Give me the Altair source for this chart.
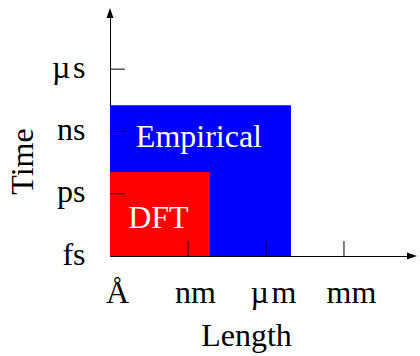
import altair as alt
import pandas as pd

# Data
x_labels = ["Å", "nm", "µ\u200am", "mm"]
y_labels = ["fs", "ps", "ns", "µ\u200as"]
tick_vals = [0, 1, 2, 3]

region_names = ["Empirical", "DFT"]
region_x2 = [2.32, 1.28]
region_y2 = [2.42, 1.35]
region_colors = ["#0000FF", "#FF0000"]
region_text_x = [1.14, 0.62]
region_text_y = [1.75, 0.45]

x_max = 3.885
y_max = 3.95

FONT = "Liberation Serif"
FS = 32

regions = pd.DataFrame({
    "name": region_names, "x": [0, 0], "x2": region_x2,
    "y": [0, 0], "y2": region_y2, "color": region_colors,
    "tx": region_text_x, "ty": region_text_y,
})

xs = alt.Scale(domain=[0, x_max], nice=False, zero=False)
ys = alt.Scale(domain=[0, y_max], nice=False, zero=False)

x_expr = "[" + ",".join('"%s"' % s for s in x_labels) + "][datum.value]"
y_expr = "[" + ",".join('"%s"' % s for s in y_labels) + "][datum.value]"

base = alt.Chart(regions)

rects = base.mark_rect().encode(
    x=alt.X("x:Q", scale=xs, axis=alt.Axis(
        values=tick_vals, labelExpr=x_expr, ticks=False, tickSize=0, grid=False,
        labelFont=FONT, labelFontSize=FS, labelColor="black",
        labelBaseline="alphabetic", labelPadding=46, labelOffset=7,
        domainColor="black", domainWidth=1, labelFlush=False,
        title="Length", titleFont=FONT, titleFontSize=FS, titleFontWeight="normal",
        titleColor="black", titleX=136, titleY=89, titleBaseline="alphabetic",
        titleAlign="center")),
    x2="x2:Q",
    y=alt.Y("y:Q", scale=ys, axis=alt.Axis(
        values=tick_vals, labelExpr=y_expr, ticks=False, tickSize=0, grid=False,
        labelFont=FONT, labelFontSize=FS, labelColor="black",
        labelBaseline="alphabetic", labelPadding=25, labelOffset=8,
        labelAlign="right", labelFlush=False,
        domainColor="black", domainWidth=1,
        title="Time", titleFont=FONT, titleFontSize=FS, titleFontWeight="normal",
        titleColor="black", titleX=-78, titleY=151, titleBaseline="alphabetic",
        titleAlign="center", titleAngle=270)),
    y2="y2:Q",
    color=alt.Color("color:N", scale=None),
)

texts = base.mark_text(font=FONT, fontSize=FS, color="white",
                       baseline="alphabetic", align="center").encode(
    x=alt.X("tx:Q", scale=xs), y=alt.Y("ty:Q", scale=ys), text="name:N")

xt = pd.DataFrame({"x": [1, 2, 3], "y": [0, 0, 0], "y2": [0.24] * 3})
yt = pd.DataFrame({"y": [1, 2, 3], "x": [0, 0, 0], "x2": [0.19] * 3})

xticks = alt.Chart(xt).mark_rule(color="black", strokeWidth=1).encode(
    x=alt.X("x:Q", scale=xs), y=alt.Y("y:Q", scale=ys), y2="y2:Q")
yticks = alt.Chart(yt).mark_rule(color="black", strokeWidth=1).encode(
    y=alt.Y("y:Q", scale=ys), x=alt.X("x:Q", scale=xs), x2="x2:Q")

arr_x = alt.Chart(pd.DataFrame({"x": [x_max], "y": [0]})).mark_point(
    shape="M 0.8 0 L -1.2 -0.7 L -1.2 0.7 Z", size=100, filled=True,
    color="black", opacity=1, clip=False).encode(
    x=alt.X("x:Q", scale=xs), y=alt.Y("y:Q", scale=ys))
arr_y = alt.Chart(pd.DataFrame({"x": [0], "y": [y_max]})).mark_point(
    shape="M 0 -0.4 L -0.7 1.6 L 0.7 1.6 Z", size=100, filled=True,
    color="black", opacity=1, clip=False).encode(
    x=alt.X("x:Q", scale=xs), y=alt.Y("y:Q", scale=ys))

chart = alt.layer(rects, texts, xticks, yticks, arr_x, arr_y).properties(
    width=303, height=246,
    autosize=alt.AutoSizeParams(type="none"),
    padding={"left": 110, "top": 10, "right": 7, "bottom": 100},
    background="white",
).configure_view(stroke=None)

chart.save("out.html", embed_options={"renderer": "svg", "actions": False})
